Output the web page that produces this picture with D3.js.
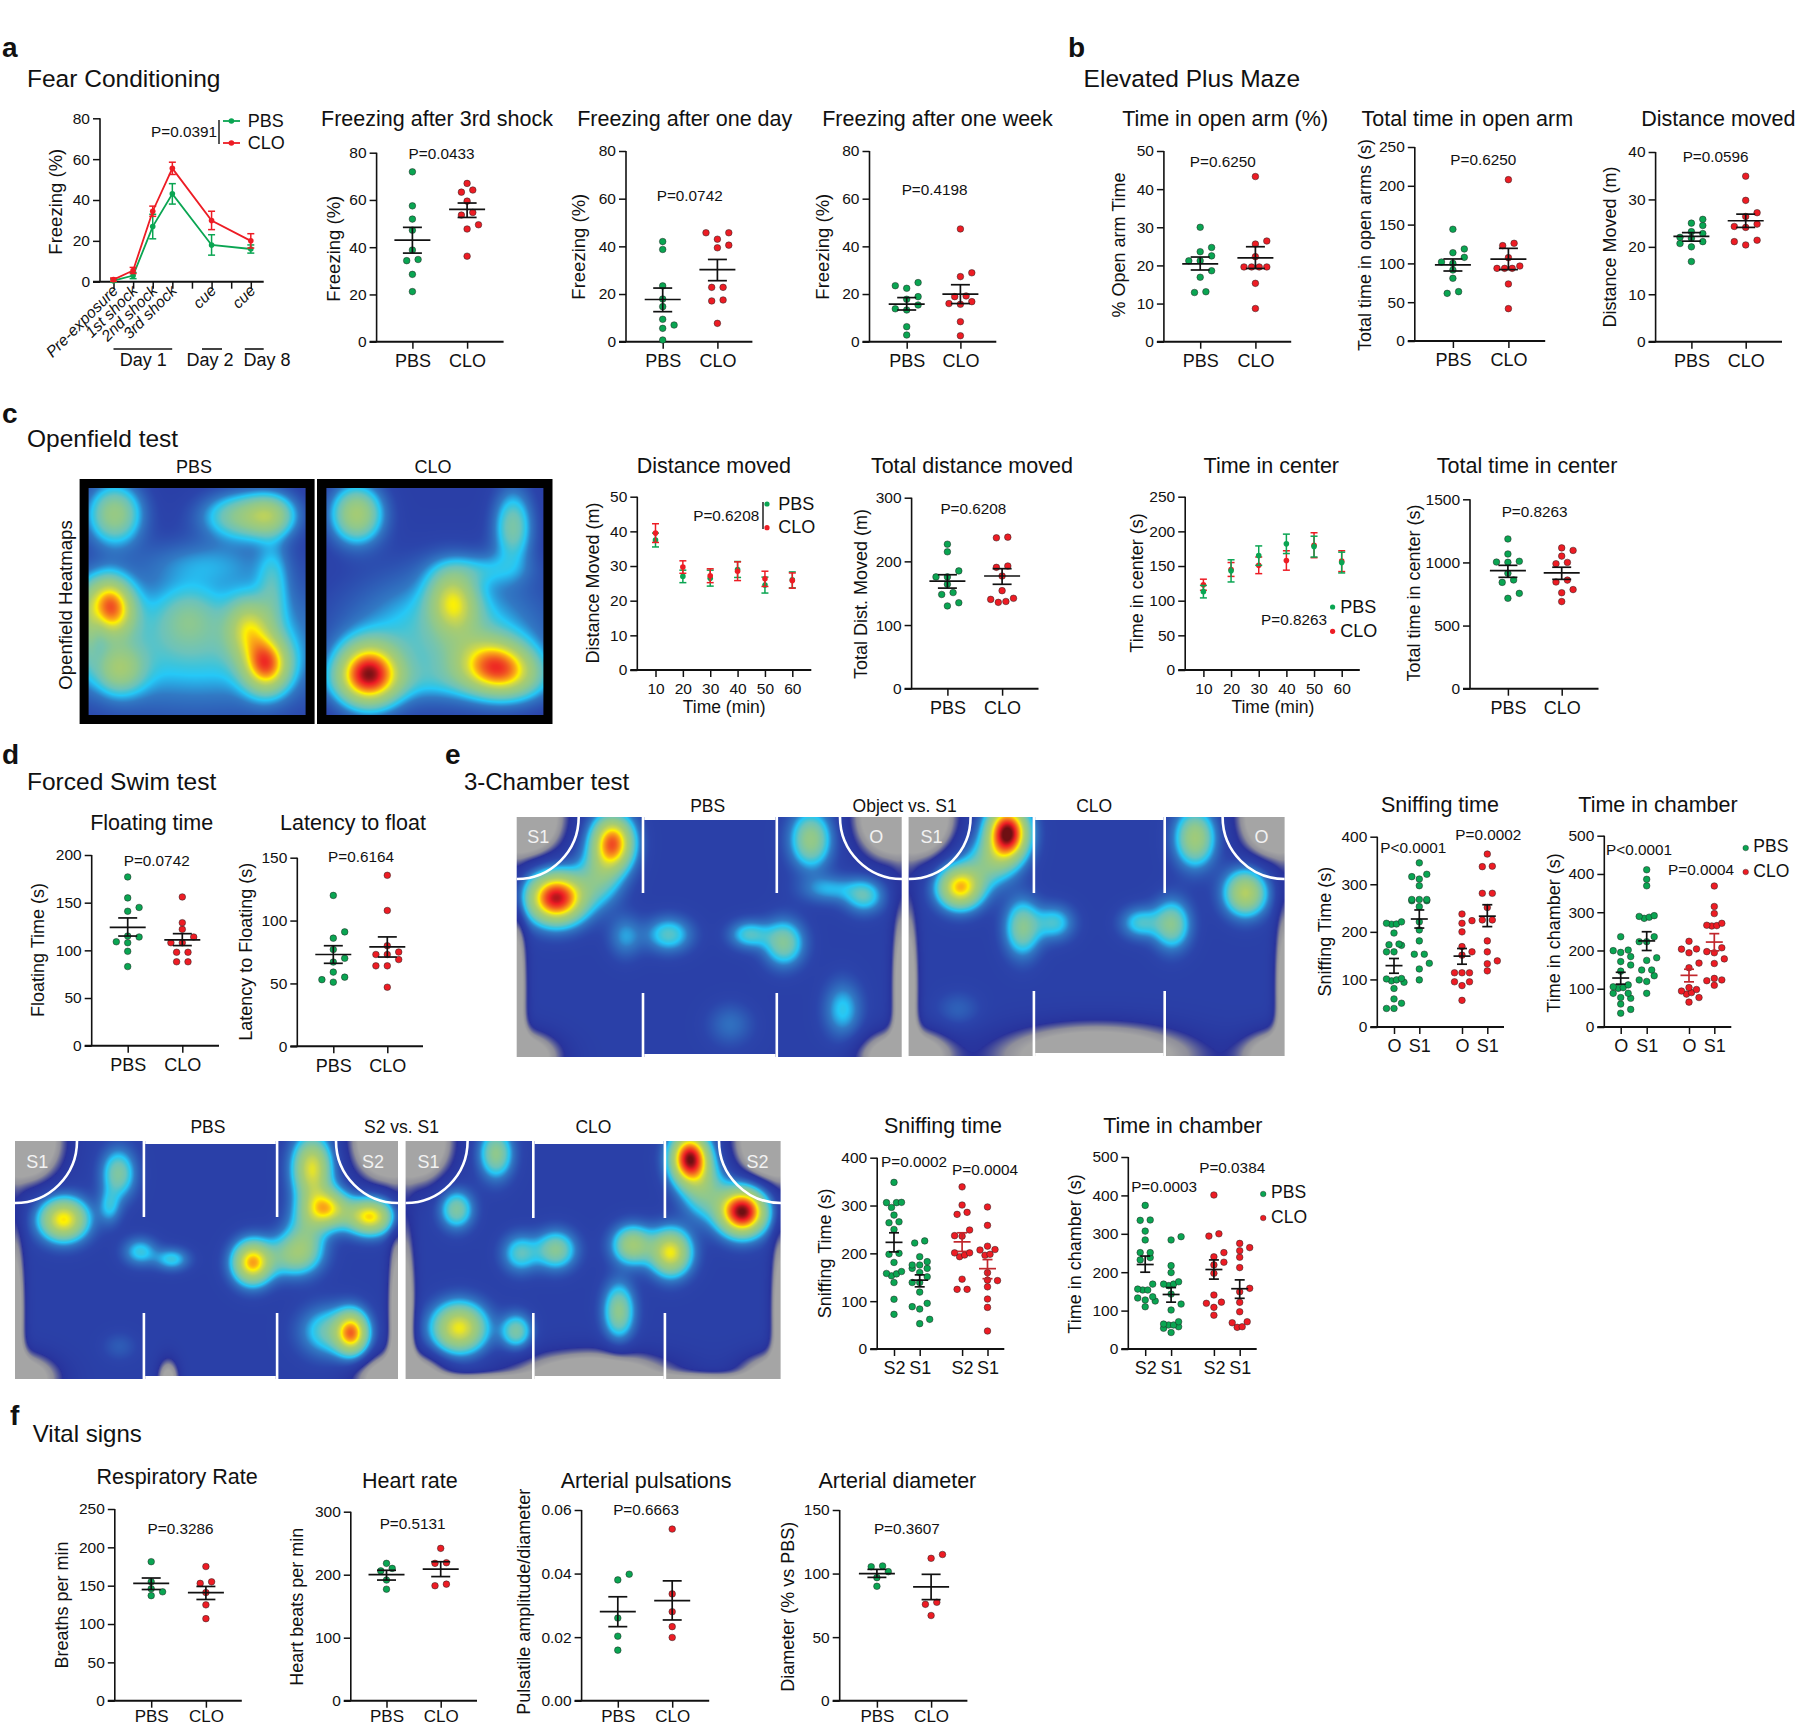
<!DOCTYPE html>
<html><head><meta charset="utf-8">
<script src="https://cdn.jsdelivr.net/npm/d3@7"></script>
<style>html,body{margin:0;background:#fff}svg{display:block}text{font-family:"Liberation Sans",Arial,sans-serif;fill:#111}</style>
</head><body>
<script>
// ---------- DATA ----------
const a1Cats=["Pre-exposure","1st shock","2nd shock","3rd shock","","cue","","cue"];
const a1PBS=[0.5,3,27,43,null,18,null,16], a1PBSerr=[0.8,1.5,6,5,null,5,null,2];
const a1CLO=[1,5.5,34.5,55.5,null,30,null,20], a1CLOerr=[0.8,1.5,2.5,3,null,4.5,null,3.5];
const a2PBS=[71.9,57.5,51.9,47.2,38.8,34.8,34.3,28.5,21.2], a2CLO=[67,64.2,63.3,59.5,54.7,53.6,49.5,47.7,36.2];
const a2Stat=[[43,48.4,37.5],[56,58.7,52.6]];
const a3PBS=[42,38.7,23.4,17.9,14.7,9.4,7,5.6,0.7], a3CLO=[45.7,45.7,43,40.5,39.4,22.8,22.8,17.5,17.1,7.7];
const a3Stat=[[17.7,22.5,12.6],[30.2,34.5,25.6]];
const a4PBS=[24.8,23.5,22.4,18.9,17.8,15.4,13.8,13.3,6.3,2.8], a4CLO=[47.3,28.9,27.3,19.2,18.9,16.8,16,15.7,8.4,2.5];
const a4Stat=[[15.8,18.5,13.3],[20,23.9,16]];
const b1PBS=[30,24.7,23.6,22.5,21.2,21.2,18.6,16.9,13.1,12.9], b1CLO=[43.3,26.4,25.6,22.3,19.6,19.6,19.6,19.6,15.3,8.7];
const b1Stat=[[20.4,22.2,18.8],[22,24.9,19.2]];
const b2PBS=[144,118.6,113.8,107.8,101.8,100,91.5,80.8,63.6,61.4], b2CLO=[207.9,125.9,122.9,107.4,96.6,93.6,93.6,93.6,73.5,41.7];
const b2Stat=[[98,105.7,90.2],[105.5,119.4,92]];
const b3PBS=[25.8,25,24.5,23.2,22.8,22,21.8,21.1,20.7,20,16.9], b3CLO=[34.9,29.8,27.2,26.4,24.8,24.3,24.1,21.4,21.1,20.4];
const b3Stat=[[22.2,23,21.2],[25.5,26.9,24.1]];
const timeCats=["10","20","30","40","50","60"];
const c1PBS=[37.5,27,26.5,29,24.5,26], c1PBSerr=[2,1.8,2.3,2.3,2.3,2.3];
const c1CLO=[39.5,29.7,27.2,28.5,26.3,25.8], c1CLOerr=[2.7,1.8,2,2.7,2.2,2.2];
const c2PBS=[227,215,185,175.6,175.6,164,151,148,135,130], c2CLO=[238,237,192.7,190.6,177,154,142,140.3,137,135.6];
const c2Stat=[[169,179,158],[177,188.5,164]];
const c3PBS=[113,143,165,182,178,155], c3PBSerr=[9,16,14,14,15,15];
const c3CLO=[123,145,151,158,180,157], c3CLOerr=[8,10,12,14,18,15];
const c4PBS=[1186,1067,1009,1003,1001,914,861,842,755,716], c4CLO=[1115,1095,1050,1000,990,860,845,785,760,690];
const c4Stat=[[935,977,882],[917,962,866]];
const d1PBS=[177,155,145,141,115,114,109,108,99,83], d1CLO=[156,129,122,114,108,108,98,98,88,88];
const d1Stat=[[124,134,115],[111,117.5,105]];
const d2PBS=[120,91,86,77,70,67,59,55,53,51], d2CLO=[136,108,80,75,73,73,69,64,64,47];
const d2Stat=[[73,80,66],[79,87,71]];
const e1OP=[221,218,216.5,216,197.5,174.4,173,171.6,158,158,102,101,99,97,94,81,59,50,39,39];
const e1SP=[345,321,316,311,297,268,268,268,265.5,265.5,253,221,204,181,153,153,134,122,99];
const e1OC=[237.5,223.5,218,200,169,158,151,114,114,114,95,95,87,56];
const e1SC=[363.5,338,337,281,281,251,225,225,181,158,139,133,118];
const e1Stat=[[129,144,113],[227,246,208],[149,165,132],[233,257,211]];
const e2OP=[236,201,199.5,195,184,171,162,146,110,105,103,101,88,88,77,75,60,46,36];
const e2SP=[411,386,369,291,289,287,284,236,223,223,181,174,149,149,134,123,119,88];
const e2OC=[224,204,203.5,194,167,155,103,98,94,90,86,77,65];
const e2SC=[368.5,315,296.5,271,266,265,264,207,197,194,178,166,127,123,121,109];
const e2Stat=[[128,143,112],[225,249,200],[135,151,118],[222,244,199]];
const e3S2P=[348.4,306.6,306,306,296,280,266,264,250,200,198,181,162,158,157,153,139,104,72.5];
const e3S1P=[226,221.6,193,182.6,175.6,175.6,168.6,168.6,160,151,139,139,119,95.5,88.5,83.6,62,53];
const e3S2C=[339,301,285.7,281.5,248.8,237,236,201,201,196.5,193,146,124.7,124.7];
const e3S1C=[297,258.5,215,208,207,198,196,159.6,144,143,130,104.5,87,37.6];
const e3Stat=[[223,243,203],[144,155,130],[224,243,204],[168,187,147]];
const e4S2P=[374,336,335,307,284,251,251,238,232,169,156,153.6,153.6,136,132.8,127.6,125,110];
const e4S1P=[292.5,284,217,199,175,169,169,165,143,117,101.5,71,65,62.5,62.5,58,54,43];
const e4S2C=[401,300,294,251,240,226,219,197,140.6,122,119,108.5,88];
const e4S1C=[275,264,256,239,212,158,149,121.5,97,71,68.4,58,56.4];
const e4Stat=[[220,242,200],[142,160,122],[207,232,182],[157,180,132]];
const f1PBS=[181.3,155,146,142,137], f1CLO=[175,155,153,141,125,107];
const f1Stat=[[153,160,145],[141,149,132]];
const f2PBS=[218,210,206,191.5,177], f2CLO=[241.8,219,218,185,182.5];
const f2Stat=[[200,207,191.5],[209,220.6,197]];
const f3PBS=[.0398,.038,.026,.0203,.0159], f3CLO=[.054,.0336,.028,.0233,.0199];
const f3Stat=[[.028,.0327,.0233],[.0315,.0377,.0254]];
const f4PBS=[106,105.4,101.5,96.8,90], f4CLO=[115,112,77.4,75.8,67];
const f4Stat=[[100,103.3,97],[89.5,99.4,79.5]];

// Heatmap hot spots: [centre x, centre y, spread x, spread y, level, tilt°] as fractions of the map
const ofPBS=[[.12,.115,.085,.09,.33],[.70,.125,.12,.07,.27],[.84,.12,.08,.065,.27],[.10,.52,.07,.085,.62,-15],[.74,.62,.07,.09,.34],[.82,.78,.07,.08,.58],[.46,.57,.09,.09,.12],[.14,.80,.08,.075,.27],[.5,.68,.42,.2,.2],[.55,.33,.2,.07,.09],[.85,.42,.05,.13,.13],[.0,.62,.03,.12,.15]];
const ofCLO=[[.14,.115,.08,.085,.38],[.86,.17,.06,.11,.25],[.585,.50,.075,.095,.38,-10],[.193,.82,.095,.09,.76],[.79,.79,.12,.08,.62,10],[.55,.64,.3,.18,.21],[.72,.36,.14,.05,.1],[.5,.85,.4,.06,.07]];
const ch1PBS=[[.103,.3375,.05,.07,.82],[.249,.108,.036,.075,.68],[.215,.25,.04,.08,.22],[.395,.49,.04,.05,.2],[.283,.497,.03,.06,.12],[.604,.49,.035,.04,.19],[.694,.525,.035,.065,.27],[.764,.094,.036,.08,.32],[.903,.328,.035,.05,.2],[.81,.30,.05,.04,.13],[.847,.803,.033,.08,.16],[.555,.865,.04,.06,.08]];
const ch1CLO=[[.263,.067,.036,.075,.89],[.137,.294,.04,.06,.58],[.215,.19,.045,.07,.23],[.303,.464,.032,.08,.28],[.388,.443,.035,.05,.18],[.616,.443,.035,.045,.18],[.70,.45,.033,.07,.28],[.762,.088,.036,.08,.36],[.896,.3175,.038,.065,.42],[.132,.805,.04,.05,.06]];
const ch2PBS=[[.127,.33,.042,.06,.55],[.27,.137,.03,.07,.26],[.247,.277,.02,.05,.14],[.327,.465,.03,.04,.17],[.41,.497,.03,.032,.17],[.62,.511,.034,.06,.6],[.727,.479,.045,.06,.28],[.776,.116,.034,.09,.5],[.813,.284,.04,.055,.52],[.927,.318,.04,.05,.56],[.76,.39,.035,.08,.2],[.88,.807,.028,.06,.58],[.82,.80,.05,.07,.22],[.273,.863,.03,.04,.05]];
const ch2CLO=[[.241,.053,.03,.07,.3],[.136,.288,.03,.055,.26],[.306,.472,.033,.055,.2],[.401,.458,.036,.055,.28],[.605,.437,.036,.055,.36],[.707,.469,.036,.065,.52],[.569,.716,.028,.08,.3],[.143,.786,.048,.07,.52],[.295,.80,.028,.05,.25],[.758,.074,.034,.07,.84],[.898,.297,.042,.065,.88],[.796,.207,.04,.08,.25]];
// pale corners and edges of the arena, where no presence was recorded
const edgeCommon=[[.025,0,.06,.11,-.3],[.975,0,.06,.11,-.3],[0,1,.07,.07,-.25],[1,1,.07,.07,-.25],[0,.72,.018,.25,-.18],[1,.72,.018,.25,-.18]];
const edgeCh1CLO=[[.5,1,.17,.085,-.25]];
const edgeCh2CLO=[[.5,1,.14,.075,-.25],[.2,1,.1,.02,-.1],[.8,1,.1,.02,-.1]];
const edgeCh2PBS=[[.4,1,.02,.06,-.15]];
const heatStops=[0,.06,.14,.22,.275,.30,.34,.42,.52,.60,.665,.72,.82,.90,1.0];
const heatColors=["#2e3192","#27309a","#2b44ab","#3179c4","#25c8f7","#3cc4dc","#6cc3bb","#8ec88f","#a8cc70","#cfd84a","#fff200","#fbb017","#f15a22","#ed1c24","#6e1013"];
const grayStops=[0,.035,.075], grayColors=["#a5a5a5","#8f8f9a","#27309a"];

// ---------- HELPERS ----------
const GREEN="#0aa552", RED="#ed1c24", DARKRED="#c1272d", BLACK="#111";
const svg=d3.select("body").append("svg").attr("width",1800).attr("height",1726).attr("viewBox","0 0 1800 1726");
function txt(s,x,y,o={}){const t=svg.append("text").text(s).attr("font-size",o.size||18).attr("text-anchor",o.anchor||"start");
  if(o.rot!==undefined)t.attr("transform",`translate(${x},${y}) rotate(${o.rot})`);else t.attr("x",x).attr("y",y);
  if(o.weight)t.attr("font-weight",o.weight); if(o.fill)t.style("fill",o.fill); return t;}
const title=(s,x,y,size=21.5)=>txt(s,x,y+1,{size,anchor:"middle"});
const head=(s,x,y)=>txt(s,x,y+2,{size:24.5});
const letter=(s,x,y)=>txt(s,x,y,{size:28,weight:"bold"});
const ylab=(s,x,y,size=18)=>txt(s,x+6,y,{size,anchor:"middle",rot:-90});
const P=(s,x,y)=>txt(s,x,y,{size:15.3,anchor:"middle"});
function styleAxis(g){g.select(".domain").remove();g.selectAll("line").attr("stroke",BLACK).attr("stroke-width",1.5);
  g.selectAll("text").style("font-size","15.5px");}
function yAxis(c){const y=d3.scaleLinear().domain([0,c.ymax]).range([c.y0,c.yTop]);
  const g=svg.append("g").attr("transform",`translate(${c.ax},0)`).call(d3.axisLeft(y).tickValues(c.ticks).tickSize(7).tickPadding(3).tickFormat(c.fmt||d3.format("d")));
  styleAxis(g);
  svg.append("line").attr("x1",c.ax).attr("x2",c.ax).attr("y1",y(0)).attr("y2",y(c.ymax)).attr("stroke",BLACK).attr("stroke-width",1.6);
  return y;}
function xLine(c){svg.append("line").attr("x1",c.ax-7).attr("x2",c.xEnd).attr("y1",c.y0).attr("y2",c.y0).attr("stroke",BLACK).attr("stroke-width",2);}
function xAxis(c,x,labels){const g=svg.append("g").attr("transform",`translate(0,${c.y0})`)
    .call(d3.axisBottom(x).tickValues(x.domain()).tickSize(7).tickPadding(c.catPad||5.5).tickFormat((d,i)=>labels[i]));
  styleAxis(g);g.selectAll("text").style("font-size",(c.catSize||18)+"px");return g;}
// Prism-like swarm: nearby values share a row, spread symmetrically about the group centre
function swarm(values,y,W=11.4,maxW=22.8){
  const s=values.slice().sort((a,b)=>a-b),out=[];let bin=[];
  const flush=()=>{const n=bin.length;
    if(n===1)out.push([bin[0],0]);
    else if(n===2){const gap=Math.abs(y(bin[0])-y(bin[1]));
      if(gap<2.6){out.push([bin[0],-W/2],[bin[1],W/2]);}else{out.push([bin[0],0],[bin[1],W]);}}
    else{const sp=Math.min(W,maxW/(n-1));const order=d3.range(n).map(i=>(i-(n-1)/2)*sp);
      const idx=d3.range(n).sort((a,b)=>Math.abs(order[a])-Math.abs(order[b]));
      bin.forEach((v,i)=>out.push([v,order[idx[i]]]));}
    bin=[];};
  s.forEach(v=>{if(bin.length&&Math.abs(y(bin[0])-y(v))>6.5)flush();bin.push(v);});
  if(bin.length)flush();return out;}
function dotPanel(c){
  const y=yAxis(c);
  const keys=c.xs.map((_,i)=>i), x=d3.scaleOrdinal(keys,c.xs);
  const mw=c.meanW||18,cw=c.capW||9.5;
  xLine(c);xAxis(c,x,c.cats);
  c.groups.forEach((v,i)=>{const col=c.colors[i];
    const gg=svg.append("g");
    gg.selectAll("circle").data(swarm(v,y,c.W||11.4,c.maxW||22.8)).join("circle").attr("cx",d=>x(i)+d[1]).attr("cy",d=>y(d[0])).attr("r",3.3)
      .attr("fill",col).attr("stroke","#222").attr("stroke-width",.5);
    const [m,hi,lo]=c.stats[i],ec=(c.errColors&&c.errColors[i])||BLACK,e=svg.append("g").attr("stroke",ec).attr("stroke-width",1.7).attr("fill","none");
    e.append("line").attr("x1",x(i)-mw).attr("x2",x(i)+mw).attr("y1",y(m)).attr("y2",y(m));
    e.append("line").attr("x1",x(i)).attr("x2",x(i)).attr("y1",y(hi)).attr("y2",y(lo));
    [hi,lo].forEach(b=>e.append("line").attr("x1",x(i)-cw).attr("x2",x(i)+cw).attr("y1",y(b)).attr("y2",y(b)));
  });
}
function tsPanel(c){
  const y=yAxis(c);xLine(c);
  const keys=c.cats.map((_,i)=>i),x=d3.scalePoint(keys,c.xr);
  const g=xAxis(c,x,c.cats);
  if(c.rotated){g.selectAll("text").attr("text-anchor","end").attr("dy",0).attr("y",0)
     .attr("transform","translate(5,10) rotate(-45)").style("font-size","15.7px").style("font-style","italic");}
  c.series.forEach(s=>{const pts=keys.filter(i=>s.v[i]!==null);
    const gg=svg.append("g").attr("stroke",s.col).attr("fill",s.col);
    if(c.lines)gg.append("path").attr("fill","none").attr("stroke-width",1.8).attr("d",d3.line().x(i=>x(i)).y(i=>y(s.v[i]))(pts));
    gg.selectAll("g").data(pts).join("g").each(function(i){const e=d3.select(this).attr("stroke-width",1.5);
      e.append("line").attr("x1",x(i)).attr("x2",x(i)).attr("y1",y(s.v[i]+s.e[i])).attr("y2",y(s.v[i]-s.e[i]));
      [1,-1].forEach(k=>e.append("line").attr("x1",x(i)-3.5).attr("x2",x(i)+3.5).attr("y1",y(s.v[i]+k*s.e[i])).attr("y2",y(s.v[i]+k*s.e[i])));
      e.append("circle").attr("cx",x(i)).attr("cy",y(s.v[i])).attr("r",2.8).attr("stroke","none");
    });
  });
}
// Heatmaps are computed on a canvas from the hot-spot lists and mapped through a d3 colour scale
const heatScale=d3.scaleLinear().domain(heatStops).range(heatColors).clamp(true);
const grayScale=d3.scaleLinear().domain(grayStops).range(grayColors).clamp(true);
function field(blobs,fx,fy){let v=0;for(const b of blobs){const a=(b[5]||0)*Math.PI/180,dx=fx-b[0],dy=fy-b[1];
  const u=dx*Math.cos(a)+dy*Math.sin(a),w=-dx*Math.sin(a)+dy*Math.cos(a);
  v+=b[4]*Math.exp(-.5*(u*u/(b[2]*b[2])+w*w/(b[3]*b[3])));}return v;}
function heat(blobs,x,y,w,h,o={}){
  w=Math.round(w);h=Math.round(h);
  const cv=document.createElement("canvas");cv.width=w;cv.height=h;const ctx=cv.getContext("2d"),im=ctx.createImageData(w,h);
  const base=o.base||0;
  for(let j=0;j<h;j++)for(let i=0;i<w;i++){const f=Math.max(0,base+field(blobs,(i+.5)/w,(j+.5)/h));
    const c=d3.rgb(o.gray&&f<grayStops[2]?grayScale(f):heatScale(f)),k=(j*w+i)*4;
    im.data[k]=c.r;im.data[k+1]=c.g;im.data[k+2]=c.b;im.data[k+3]=255;}
  ctx.putImageData(im,0,0);
  svg.append("image").attr("x",x).attr("y",y).attr("width",w).attr("height",h).attr("href",cv.toDataURL());
}
function chamberMap(c){
  heat(c.blobs.concat(edgeCommon,c.edges||[]),c.x,c.y,c.x2-c.x,c.y2-c.y,{base:.125,gray:true});
  const g=svg.append("g").attr("fill","none").attr("stroke","#fff").attr("stroke-width",2.6);
  c.walls.forEach(wx=>{g.append("line").attr("x1",wx).attr("x2",wx).attr("y1",c.y).attr("y2",c.wallTop);
    g.append("line").attr("x1",wx).attr("x2",wx).attr("y1",c.wallBot).attr("y2",c.y2);});
  const arc=d3.arc().innerRadius(62).outerRadius(62);
  g.append("path").attr("transform",`translate(${c.x},${c.y})`).attr("d",arc({startAngle:Math.PI/2,endAngle:Math.PI}));
  g.append("path").attr("transform",`translate(${c.x2},${c.y})`).attr("d",arc({startAngle:Math.PI,endAngle:Math.PI*1.5}));
  svg.append("rect").attr("x",c.walls[0]+1.3).attr("y",c.y).attr("width",c.walls[1]-c.walls[0]-2.6).attr("height",3).attr("fill","#fff");
  svg.append("rect").attr("x",c.walls[0]+1.3).attr("y",c.y2-3).attr("width",c.walls[1]-c.walls[0]-2.6).attr("height",3.5).attr("fill","#fff");
  txt(c.labels[0],c.lx[0],c.ly,{anchor:"middle",size:18,fill:"#f2f2f2"});
  txt(c.labels[1],c.lx[1],c.ly,{anchor:"middle",size:18,fill:"#f2f2f2"});
}
const PC=["PBS","CLO"], GC=[GREEN,RED];
const tight={W:10,maxW:15,meanW:8.5,capW:5};
const low={catSize:17,catPad:2};

// ---------- PANEL a ----------
letter("a",2,57);head("Fear Conditioning",27,85);
tsPanel({ax:100,y0:281.7,yTop:118.3,ymax:80,ticks:[0,20,40,60,80],xEnd:263.7,cats:a1Cats,xr:[113.5,250.8],rotated:true,lines:true,
  series:[{v:a1PBS,e:a1PBSerr,col:GREEN},{v:a1CLO,e:a1CLOerr,col:RED}]});
ylab("Freezing (%)",55.7,201.7,18.5);
[["Day 1",113.5,172.2,143.3],["Day 2",202,222,210],["Day 8",244.8,263.7,267]].forEach(d=>{
  svg.append("line").attr("x1",d[1]).attr("x2",d[2]).attr("y1",349).attr("y2",349).attr("stroke",BLACK).attr("stroke-width",1.6);
  txt(d[0],d[3],366,{size:18,anchor:"middle"});});
[[121,GREEN,"PBS",126.5],[143,RED,"CLO",148.5]].forEach(d=>{
  svg.append("line").attr("x1",223).attr("x2",240).attr("y1",d[0]).attr("y2",d[0]).attr("stroke",d[1]).attr("stroke-width",1.8);
  svg.append("circle").attr("cx",231.4).attr("cy",d[0]).attr("r",2.8).attr("fill",d[1]);
  txt(d[2],247.8,d[3],{size:18});});
svg.append("line").attr("x1",219).attr("x2",219).attr("y1",120).attr("y2",144).attr("stroke",BLACK).attr("stroke-width",1.4);
P("P=0.0391",184,137);
const freezeT=[0,20,40,60,80];
dotPanel({ax:376.6,y0:341.7,yTop:152.7,ymax:80,ticks:freezeT,xEnd:503.6,xs:[412.4,467.1],cats:PC,groups:[a2PBS,a2CLO],stats:a2Stat,colors:GC});
title("Freezing after 3rd shock",437,125);P("P=0.0433",441.5,159);ylab("Freezing (%)",334.4,248.7,18.5);
dotPanel({ax:626,y0:341.7,yTop:151,ymax:80,ticks:freezeT,xEnd:752.4,xs:[662.7,717.4],cats:PC,groups:[a3PBS,a3CLO],stats:a3Stat,colors:GC});
title("Freezing after one day",684.7,125);P("P=0.0742",689.7,201);ylab("Freezing (%)",579.2,246.7,18.5);
dotPanel({ax:869.5,y0:341.7,yTop:151,ymax:80,ticks:freezeT,xEnd:996.3,xs:[906.7,960.4],cats:PC,groups:[a4PBS,a4CLO],stats:a4Stat,colors:GC});
title("Freezing after one week",937.5,125);P("P=0.4198",934.6,195);ylab("Freezing (%)",823,246.7,18.5);

// ---------- PANEL b ----------
letter("b",1068,57);head("Elevated Plus Maze",1083.6,85);
dotPanel({ax:1163.9,y0:341.7,yTop:151,ymax:50,ticks:[0,10,20,30,40,50],xEnd:1291.2,xs:[1200.2,1255.4],cats:PC,groups:[b1PBS,b1CLO],stats:b1Stat,colors:GC});
title("Time in open arm (%)",1225.1,125);P("P=0.6250",1222.8,166.7);ylab("% Open arm Time",1118.7,245);
dotPanel({ax:1414.8,y0:341,yTop:147,ymax:250,ticks:[0,50,100,150,200,250],xEnd:1545.2,xs:[1452.9,1508.4],cats:PC,groups:[b2PBS,b2CLO],stats:b2Stat,colors:GC});
title("Total time in open arm",1467.3,125);P("P=0.6250",1483.3,165);ylab("Total time in open arms (s)",1365.4,245);
dotPanel({ax:1655.6,y0:341.7,yTop:152,ymax:40,ticks:[0,10,20,30,40],xEnd:1782,xs:[1691.4,1745.7],cats:PC,groups:[b3PBS,b3CLO],stats:b3Stat,colors:GC});
title("Distance moved",1718.4,125);P("P=0.0596",1715.6,161.7);ylab("Distance Moved (m)",1609.7,247);

// ---------- PANEL c ----------
letter("c",2,423);head("Openfield test",27,445);
[[79.6,235],[317,235.5]].forEach(r=>svg.append("rect").attr("x",r[0]).attr("y",479).attr("width",r[1]).attr("height",245).attr("fill","#000"));
heat(ofPBS,88.6,488,217,227,{base:.12});
heat(ofCLO,326.4,488,217,227,{base:.12});
txt("PBS",194,473,{size:18,anchor:"middle"});txt("CLO",433,473,{size:18,anchor:"middle"});
ylab("Openfield Heatmaps",65.7,605,18.6);
tsPanel({ax:637.3,y0:670,yTop:496.7,ymax:50,ticks:[0,10,20,30,40,50],xEnd:811.3,cats:timeCats,xr:[655.5,792.3],catSize:15.5,
  series:[{v:c1PBS,e:c1PBSerr,col:GREEN},{v:c1CLO,e:c1CLOerr,col:RED}]});
title("Distance moved",713.8,472);ylab("Distance Moved (m)",592.5,583);txt("Time (min)",724.2,712.7,{size:17.5,anchor:"middle"});
[[504,GREEN,"PBS",509],[527.7,RED,"CLO",532]].forEach(d=>{svg.append("circle").attr("cx",767).attr("cy",d[0]).attr("r",2.6).attr("fill",d[1]);txt(d[2],778.3,d[3]+1,{size:18});});
svg.append("line").attr("x1",763).attr("x2",763).attr("y1",502).attr("y2",529).attr("stroke",BLACK).attr("stroke-width",1.4);
P("P=0.6208",726.2,521);
dotPanel({ax:911.6,y0:688.7,yTop:497.7,ymax:300,ticks:[0,100,200,300],xEnd:1038.5,xs:[947.4,1002.1],cats:PC,groups:[c2PBS,c2CLO],stats:c2Stat,colors:GC});
title("Total distance moved",971.9,472);P("P=0.6208",973.4,514.3);ylab("Total Dist. Moved (m)",861.1,594);
tsPanel({ax:1185.2,y0:670,yTop:496.7,ymax:250,ticks:[0,50,100,150,200,250],xEnd:1359.8,cats:timeCats,xr:[1203.4,1341.7],catSize:15.5,
  series:[{v:c3CLO,e:c3CLOerr,col:RED},{v:c3PBS,e:c3PBSerr,col:GREEN}]});
title("Time in center",1271.3,472);ylab("Time in center (s)",1136.8,583);txt("Time (min)",1272.9,712.7,{size:17.5,anchor:"middle"});
[[607,GREEN,"PBS",612.5],[631.3,RED,"CLO",636.5]].forEach(d=>{svg.append("circle").attr("cx",1332.6).attr("cy",d[0]).attr("r",2.6).attr("fill",d[1]);txt(d[2],1340.2,d[3],{size:18});});
P("P=0.8263",1294,625);
dotPanel({ax:1470,y0:688.7,yTop:499.3,ymax:1500,ticks:[0,500,1000,1500],xEnd:1598.5,xs:[1507.9,1561.7],cats:PC,groups:[c4PBS,c4CLO],stats:c4Stat,colors:GC});
title("Total time in center",1527.1,472);P("P=0.8263",1534.6,516.7);ylab("Total time in center (s)",1413.9,593);

// ---------- PANEL d ----------
letter("d",2,764);head("Forced Swim test",27,788);
dotPanel({ax:91.7,y0:1045.7,yTop:855,ymax:200,ticks:[0,50,100,150,200],xEnd:219,xs:[127.7,182.3],cats:PC,groups:[d1PBS,d1CLO],stats:d1Stat,colors:GC});
title("Floating time",151.7,829);P("P=0.0742",156.7,866);ylab("Floating Time (s)",38,950);
dotPanel({ax:297.3,y0:1046.3,yTop:857.7,ymax:150,ticks:[0,50,100,150],xEnd:423,xs:[333.3,387.3],cats:PC,groups:[d2PBS,d2CLO],stats:d2Stat,colors:GC});
title("Latency to float",353,829);P("P=0.6164",361,861.7);ylab("Latency to Floating (s)",246,951.7);

// ---------- PANEL e ----------
letter("e",445,764);txt("3-Chamber test",463.9,790,{size:24});
txt("PBS",707.7,811.7,{size:17.5,anchor:"middle"});txt("Object vs. S1",904.6,811.7,{size:17.5,anchor:"middle"});txt("CLO",1094.2,811.7,{size:17.5,anchor:"middle"});
chamberMap({blobs:ch1PBS,x:516.7,x2:902,y:817,y2:1057,walls:[643,776.8],wallTop:893,wallBot:993,labels:["S1","O"],lx:[538.2,876.2],ly:843});
chamberMap({blobs:ch1CLO,edges:edgeCh1CLO,x:908.6,x2:1284.6,y:817,y2:1056,walls:[1033.9,1164.7],wallTop:893,wallBot:991,labels:["S1","O"],lx:[931.4,1261.6],ly:843});
const OS=["O","S1","O","S1"],SS=["S2","S1","S2","S1"],GGCC=[GREEN,GREEN,RED,RED];
dotPanel({...tight,ax:1377.3,y0:1027,yTop:836.7,ymax:400,ticks:[0,100,200,300,400],xEnd:1504,xs:[1394,1419.3,1462,1487.3],cats:OS,groups:[e1OP,e1SP,e1OC,e1SC],stats:e1Stat,colors:GGCC});
title("Sniffing time",1440,810.7);P("P<0.0001",1413.3,852.7);P("P=0.0002",1488.3,840);ylab("Sniffing Time (s)",1325,931.7);
dotPanel({...tight,ax:1604.3,y0:1027,yTop:835.7,ymax:500,ticks:[0,100,200,300,400,500],xEnd:1731.3,xs:[1620.7,1646.7,1689,1714.3],cats:OS,groups:[e2OP,e2SP,e2OC,e2SC],stats:e2Stat,colors:GGCC,errColors:[BLACK,BLACK,DARKRED,DARKRED]});
title("Time in chamber",1658,810.7);P("P<0.0001",1639,855.3);P("P=0.0004",1701,875);ylab("Time in chamber (s)",1554,933);
[[848,GREEN,"PBS",852.3],[872,RED,"CLO",876.7]].forEach(d=>{svg.append("circle").attr("cx",1745.7).attr("cy",d[0]).attr("r",2.8).attr("fill",d[1]).attr("stroke","#222").attr("stroke-width",.4);txt(d[2],1753.3,d[3],{size:17.5});});

txt("PBS",207.9,1133,{size:17.5,anchor:"middle"});txt("S2 vs. S1",401.5,1133,{size:17.5,anchor:"middle"});txt("CLO",593.4,1133,{size:17.5,anchor:"middle"});
chamberMap({blobs:ch2PBS,edges:edgeCh2PBS,x:15,x2:398,y:1141,y2:1379,walls:[143.9,277.1],wallTop:1217,wallBot:1313,labels:["S1","S2"],lx:[37.2,373],ly:1168});
chamberMap({blobs:ch2CLO,edges:edgeCh2CLO,x:405.6,x2:781,y:1141,y2:1379,walls:[533.3,664.9],wallTop:1218,wallBot:1313,labels:["S1","S2"],lx:[428.6,757.6],ly:1168});
dotPanel({...tight,ax:877.2,y0:1349,yTop:1157.7,ymax:400,ticks:[0,100,200,300,400],xEnd:1004.3,xs:[894,919.7,962.1,987.5],cats:SS,groups:[e3S2P,e3S1P,e3S2C,e3S1C],stats:e3Stat,colors:GGCC,errColors:[BLACK,BLACK,DARKRED,DARKRED]});
title("Sniffing time",942.9,1132);P("P=0.0002",914,1166.7);P("P=0.0004",985,1175.3);ylab("Sniffing Time (s)",824.6,1253.3);
dotPanel({...tight,ax:1128.3,y0:1349,yTop:1157,ymax:500,ticks:[0,100,200,300,400,500],xEnd:1256.7,xs:[1145.2,1171.1,1213.9,1239.7],cats:SS,groups:[e4S2P,e4S1P,e4S2C,e4S1C],stats:e4Stat,colors:GGCC});
title("Time in chamber",1182.8,1132);P("P=0.0003",1164.1,1191.7);P("P=0.0384",1232.2,1172.7);ylab("Time in chamber (s)",1074.6,1254);
[[1194,GREEN,"PBS",1198.3],[1218,RED,"CLO",1222.7]].forEach(d=>{svg.append("circle").attr("cx",1263.2).attr("cy",d[0]).attr("r",2.8).attr("fill",d[1]).attr("stroke","#222").attr("stroke-width",.4);txt(d[2],1271.1,d[3],{size:17.5});});

// ---------- PANEL f ----------
letter("f",10,1425);txt("Vital signs",32.8,1442,{size:24});
dotPanel({...low,ax:114.8,y0:1700.7,yTop:1509,ymax:250,ticks:[0,50,100,150,200,250],xEnd:241.8,xs:[151.2,205.9],cats:PC,groups:[f1PBS,f1CLO],stats:f1Stat,colors:GC});
title("Respiratory Rate",177.1,1483);P("P=0.3286",180.5,1534);ylab("Breaths per min",61.7,1605);
dotPanel({...low,ax:350.8,y0:1700.7,yTop:1511.7,ymax:300,ticks:[0,100,200,300],xEnd:477,xs:[386.5,440.7],cats:PC,groups:[f2PBS,f2CLO],stats:f2Stat,colors:GC});
title("Heart rate",409.9,1487);P("P=0.5131",412.6,1529.3);ylab("Heart beats per min",296.5,1606.7);
dotPanel({...low,ax:581.6,y0:1700.7,yTop:1510,ymax:.06,ticks:[0,.02,.04,.06],fmt:d3.format(".2f"),xEnd:709.2,xs:[617.8,672.2],cats:PC,groups:[f3PBS,f3CLO],stats:f3Stat,colors:GC});
title("Arterial pulsations",646.1,1487);P("P=0.6663",646.1,1515);ylab("Pulsatile amplitude/diameter",524.3,1601.7);
dotPanel({...low,ax:839.7,y0:1700.7,yTop:1510,ymax:150,ticks:[0,50,100,150],xEnd:967.4,xs:[876.9,931.1],cats:PC,groups:[f4PBS,f4CLO],stats:f4Stat,colors:GC});
title("Arterial diameter",897.4,1487);P("P=0.3607",906.9,1534);ylab("Diameter (% vs PBS)",787.7,1606.7);
</script>
</body></html>
